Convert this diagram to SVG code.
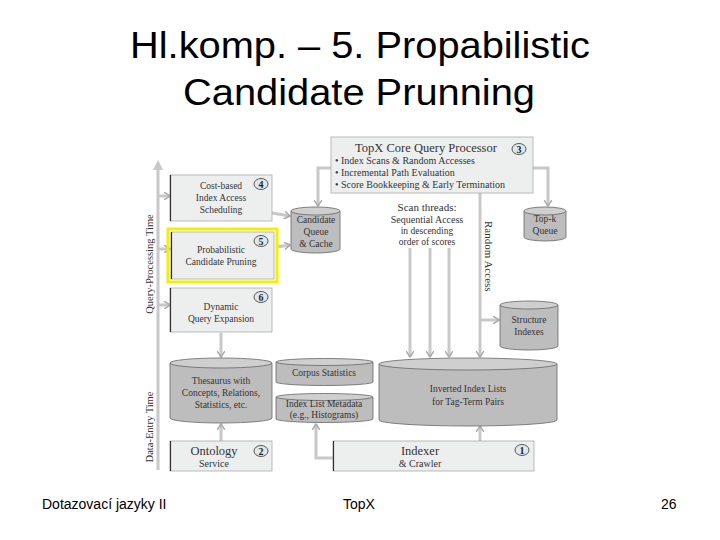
<svg xmlns="http://www.w3.org/2000/svg" width="720" height="540" viewBox="0 0 720 540">
<defs>
<marker id="ah" markerWidth="8" markerHeight="8" refX="6" refY="4" orient="auto" markerUnits="userSpaceOnUse">
<path d="M0,0 L6,4 L0,8" fill="none" stroke="#aaa" stroke-width="1.5"/>
</marker>
<style>
.title{font-family:"Liberation Sans",Arial,sans-serif;font-size:36px;fill:#000;text-anchor:middle}
.foot{font-family:"Liberation Sans",Arial,sans-serif;font-size:14px;fill:#000}
.t{font-family:"Liberation Serif","Times New Roman",serif;font-size:9.5px;fill:#333;text-anchor:middle}
.tl{font-family:"Liberation Serif","Times New Roman",serif;font-size:10px;fill:#333}
.big{font-family:"Liberation Serif","Times New Roman",serif;font-size:12.5px;fill:#333;text-anchor:middle}
.box{fill:#edefef;stroke:#aaa;stroke-width:0.8}
.edge{stroke:#333;stroke-width:1.2}
.cyl{fill:#bdbdbd;stroke:#666;stroke-width:0.8}
.cyltop{fill:#cfcfcf;stroke:#666;stroke-width:0.8}
.num{fill:#dfe8ee;stroke:#333;stroke-width:0.8}
.numt{font-family:"Liberation Serif",serif;font-size:10px;font-weight:bold;fill:#222;text-anchor:middle}
.arr{fill:none;stroke:#c8c8c8;stroke-width:3;marker-end:url(#ah)}
.line{fill:none;stroke:#c8c8c8;stroke-width:3}
</style>
</defs>
<rect width="720" height="540" fill="#fff"/>
<text class="title" x="360" y="58" textLength="460" lengthAdjust="spacingAndGlyphs">Hl.komp. – 5. Propabilistic</text>
<text class="title" x="359" y="105" textLength="352" lengthAdjust="spacingAndGlyphs">Candidate Prunning</text>

<g id="axis">
<line x1="158" y1="470" x2="158" y2="166" class="line"/>
<path d="M153,170 L158,160 L163,170 Z" fill="#c8c8c8"/>
<text class="t" style="font-size:10.5px" transform="translate(153,264) rotate(-90)">Query-Processing Time</text>
<text class="t" style="font-size:10.5px" transform="translate(153,427) rotate(-90)">Data-Entry Time</text>
</g>

<g id="connectors">
<path class="arr" d="M158,196 L170,196"/>
<path class="arr" d="M158,249 L170,249"/>
<path class="arr" d="M158,305 L170,305"/>
<path class="arr" d="M272,213 L290,216"/>
<path class="arr" d="M277,247 L290,245"/>
<path class="arr" d="M331,168 L318,168 L318,206"/>
<path class="arr" d="M533,168 L548,168 L548,206"/>
<path class="arr" d="M410,248 L410,357"/>
<path class="arr" d="M430,248 L430,357"/>
<path class="arr" d="M449,248 L449,357"/>
<path class="arr" d="M480,193 L480,357"/>
<path class="arr" d="M480,320 L499,320"/>
<path class="arr" d="M221,333 L221,357"/>
<path class="arr" d="M221,441 L221,424"/>
<path class="arr" d="M480,441 L480,426"/>
<path class="arr" d="M333,458 L316,458 L316,424"/>
</g>

<g id="box4">
<rect class="box" x="170" y="175" width="102" height="46"/>
<line class="edge" x1="170.5" y1="175" x2="170.5" y2="221"/>
<text class="t" x="221" y="189">Cost-based</text>
<text class="t" x="221" y="201">Index Access</text>
<text class="t" x="221" y="213">Scheduling</text>
<ellipse class="num" cx="261" cy="184" rx="7" ry="5.5"/><text class="numt" x="261" y="187.5">4</text>
</g>

<g id="box5">
<rect x="168" y="229" width="109" height="53" fill="none" stroke="#f4f000" stroke-width="3"/>
<rect class="box" x="171" y="232" width="103" height="47"/>
<line class="edge" x1="171.5" y1="232" x2="171.5" y2="279"/>
<text class="t" x="221" y="253">Probabilistic</text>
<text class="t" x="221" y="265">Candidate Pruning</text>
<ellipse class="num" cx="261" cy="241" rx="7" ry="5.5"/><text class="numt" x="261" y="244.5">5</text>
</g>

<g id="box6">
<rect class="box" x="170" y="288" width="102" height="44"/>
<line class="edge" x1="170.5" y1="288" x2="170.5" y2="332"/>
<text class="t" x="221" y="310">Dynamic</text>
<text class="t" x="221" y="322">Query Expansion</text>
<ellipse class="num" cx="261" cy="297" rx="7" ry="5.5"/><text class="numt" x="261" y="300.5">6</text>
</g>

<g id="candidateQueue">
<path class="cyl" d="M291,211 L291,249 A24.5,4 0 0 0 340,249 L340,211"/>
<ellipse class="cyltop" cx="315.5" cy="211" rx="24.5" ry="4"/>
<text class="t" x="316" y="223">Candidate</text>
<text class="t" x="316" y="235">Queue</text>
<text class="t" x="316" y="247">&amp; Cache</text>
</g>

<g id="coreProcessor">
<rect class="box" x="331" y="137" width="202" height="56"/>
<text class="big" x="426" y="152">TopX Core Query Processor</text>
<text class="tl" x="335" y="164">• Index Scans &amp; Random Accesses</text>
<text class="tl" x="335" y="176">• Incremental Path Evaluation</text>
<text class="tl" x="335" y="188">• Score Bookkeeping &amp; Early Termination</text>
<ellipse class="num" cx="519" cy="149" rx="7" ry="5.5"/><text class="numt" x="519" y="152.5">3</text>
</g>

<g id="topkQueue">
<path class="cyl" d="M524,211 L524,237 A21,4 0 0 0 566,237 L566,211"/>
<ellipse class="cyltop" cx="545" cy="211" rx="21" ry="4"/>
<text class="t" x="545" y="222">Top-k</text>
<text class="t" x="545" y="234">Queue</text>
</g>

<g id="scanThreads">
<text class="t" style="font-size:11px" x="427" y="211">Scan threads:</text>
<text class="t" style="font-size:10px" x="427" y="223">Sequential Access</text>
<text class="t" x="427" y="234">in descending</text>
<text class="t" x="427" y="245">order of scores</text>
</g>

<g id="randomAccess">
<text class="tl" style="font-size:11px" transform="translate(485,221) rotate(90)">Random Access</text>
</g>

<g id="structureIndexes">
<path class="cyl" d="M500,305 L500,346 A29,4 0 0 0 558,346 L558,305"/>
<ellipse class="cyltop" cx="529" cy="305" rx="29" ry="4"/>
<text class="t" x="529" y="323">Structure</text>
<text class="t" x="529" y="335">Indexes</text>
</g>

<g id="invertedIndex">
<path class="cyl" d="M379,364 L379,420 A89,6 0 0 0 557,420 L557,364"/>
<ellipse class="cyltop" cx="468" cy="364" rx="89" ry="6"/>
<text class="t" x="468" y="392">Inverted Index Lists</text>
<text class="t" x="468" y="405">for Tag-Term Pairs</text>
</g>

<g id="corpusStatistics">
<path class="cyl" d="M276,362 L276,382 A48.5,3.5 0 0 0 373,382 L373,362"/>
<ellipse class="cyltop" cx="324.5" cy="362" rx="48.5" ry="3.5"/>
<text class="t" x="324" y="376">Corpus Statistics</text>
</g>

<g id="indexListMetadata">
<path class="cyl" d="M276,397 L276,419 A48.5,3.5 0 0 0 373,419 L373,397"/>
<ellipse class="cyltop" cx="324.5" cy="397" rx="48.5" ry="3.5"/>
<text class="t" x="324" y="407">Index List Metadata</text>
<text class="t" x="324" y="418">(e.g., Histograms)</text>
</g>

<g id="thesaurus">
<path class="cyl" d="M170,363 L170,418 A51,5 0 0 0 272,418 L272,363"/>
<ellipse class="cyltop" cx="221" cy="363" rx="51" ry="5"/>
<text class="t" x="221" y="384">Thesaurus with</text>
<text class="t" x="221" y="396">Concepts, Relations,</text>
<text class="t" x="221" y="408">Statistics, etc.</text>
</g>

<g id="ontology">
<rect class="box" x="170" y="441" width="102" height="30"/>
<line class="edge" x1="170.5" y1="441" x2="170.5" y2="471"/>
<text class="big" x="214" y="455">Ontology</text>
<text class="t" style="font-size:10px" x="214" y="467">Service</text>
<ellipse class="num" cx="261" cy="451" rx="7" ry="5.5"/><text class="numt" x="261" y="454.5">2</text>
</g>

<g id="indexer">
<rect class="box" x="333" y="441" width="201" height="30"/>
<line class="edge" x1="333.5" y1="441" x2="333.5" y2="471"/>
<text class="big" x="420" y="455">Indexer</text>
<text class="t" style="font-size:10px" x="420" y="467">&amp; Crawler</text>
<ellipse class="num" cx="522" cy="450" rx="7" ry="5.5"/><text class="numt" x="522" y="453.5">1</text>
</g>

<text class="foot" x="42" y="509">Dotazovací jazyky II</text>
<text class="foot" x="343" y="509">TopX</text>
<text class="foot" x="661" y="509">26</text>
</svg>
